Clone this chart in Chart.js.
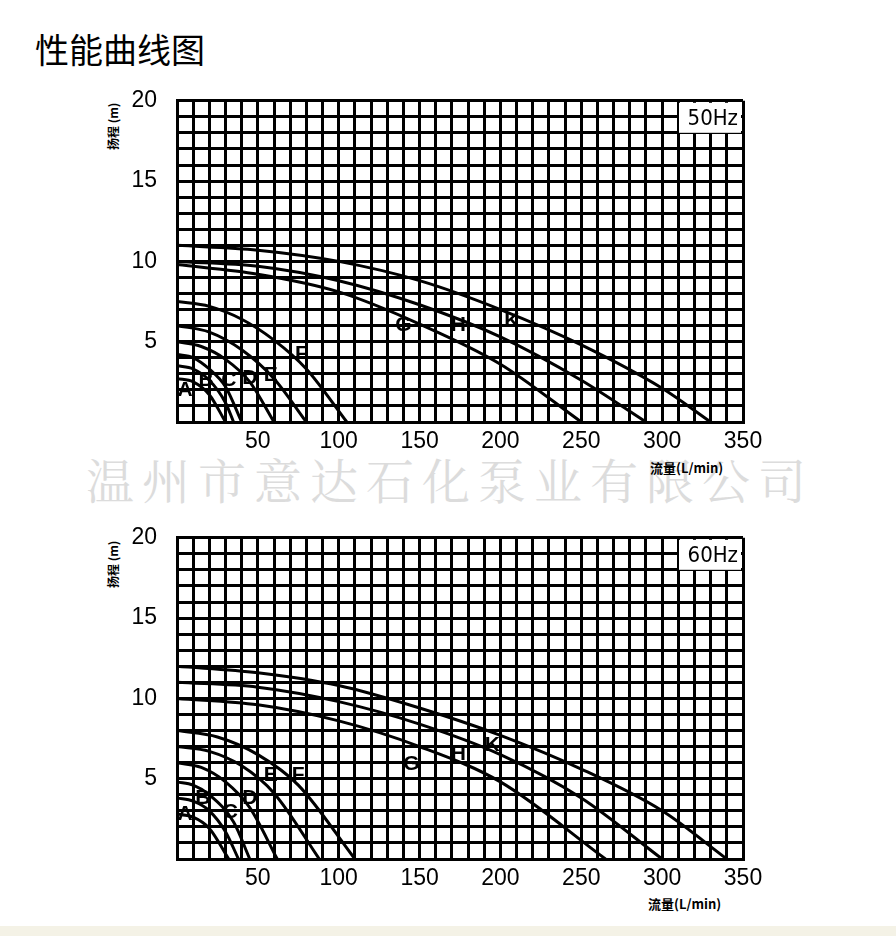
<!DOCTYPE html>
<html>
<head>
<meta charset="utf-8">
<script src="https://cdn.jsdelivr.net/npm/chart.js@4/dist/chart.umd.min.js"></script>
<style>
body { margin:0; background:#fff; width:896px; height:936px; position:relative; overflow:hidden; font-family:"Liberation Sans", Arial, sans-serif; }
.box { position:absolute; left:0; width:896px; height:398px; }
#title { position:absolute; left:35px; top:24px; font-size:34px; font-family:"Noto Sans CJK SC"; }
#wm { position:absolute; left:86px; top:444px; font-size:48px; color:#dcdcdc; letter-spacing:8px; font-family:"Noto Serif CJK SC","Noto Sans CJK SC"; white-space:nowrap; }
.ylab { position:absolute; font-size:12px; font-weight:bold; transform:rotate(-90deg); transform-origin:left top; font-family:"Noto Sans CJK SC"; white-space:nowrap; }
.xlab { position:absolute; font-size:13px; font-weight:bold; font-family:"Noto Sans CJK SC"; white-space:nowrap; }
#bar { position:absolute; left:0; top:926px; width:896px; height:10px; background:#f4f2e6; }
</style>
</head>
<body>
<div id="title">性能曲线图</div>
<div id="wm">温州市意达石化泵业有限公司</div>
<div class="ylab" style="left:104px;top:150px">扬程 (m)</div>
<div class="xlab" style="left:650px;top:458px">流量(L/min)</div>
<div class="ylab" style="left:104px;top:588px">扬程 (m)</div>
<div class="xlab" style="left:648px;top:894px">流量(L/min)</div>
<div class="box" style="top:67px"><canvas id="c50"></canvas></div>
<div class="box" style="top:504px"><canvas id="c60"></canvas></div>
<div id="bar"></div>
<script>
// 50Hz curves
const names = ['A','B','C','D','E','F','G','H','K'];
const x50 = [
  [0,10,20,30],
  [0,10,20,30,35],
  [0,10,20,30,40],
  [0,15,30,45,60],
  [0,20,40,60,80],
  [0,20,40,60,80,105],
  [0,50,100,150,200,250],
  [0,50,100,150,200,250,290],
  [0,50,100,150,200,250,300,330]
];
const y50 = [
  [2.7,2.5,1.7,0],
  [3.5,3.3,2.6,1.2,0],
  [4.2,4.0,3.3,2.2,0],
  [5,4.7,3.9,2.5,0],
  [6,5.6,4.5,2.7,0],
  [7.5,7.2,6.4,5.1,3.3,0],
  [9.8,9.2,8.1,6.1,3.6,0],
  [10,9.7,8.8,7.3,5.3,2.6,0],
  [11,10.7,10,8.8,7.0,4.8,2.1,0]
];
const lab50 = [[5,2],[18,2.6],[32,2.6],[45,2.7],[58,2.9],[77,4.2],[140,6],[174,6],[207,6.3]];

// 60Hz curves
const x60 = [
  [0,10,20,32],
  [0,10,20,30,38],
  [0,10,20,35,45],
  [0,15,30,45,62],
  [0,20,40,60,88],
  [0,25,50,75,110],
  [0,50,100,150,200,265],
  [0,50,100,150,200,250,300],
  [0,50,100,150,200,250,300,340]
];
const y60 = [
  [2.8,2.6,1.9,0],
  [3.8,3.6,3.0,1.7,0],
  [4.8,4.6,4.0,2.3,0],
  [6,5.7,4.8,3.2,0],
  [7,6.7,5.8,4.1,0],
  [8,7.6,6.5,4.6,0],
  [10,9.6,8.6,7.0,4.8,0],
  [11,10.7,9.8,8.4,6.5,3.8,0],
  [12,11.6,10.8,9.4,7.7,5.6,3.0,0]
];
const lab60 = [[5,2.8],[16,3.8],[33,2.9],[45,3.8],[58,5.2],[75,5.2],[145,5.9],[174,6.5],[195,7.1]];

const xTicks = [50,100,150,200,250,300,350];
const yTicks = [5,10,15,20];

function makeChart(id, xs, ys, labs, hz) {
  const datasets = xs.map((xa, i) => ({
    label: names[i],
    data: xa.map((x, j) => ({x: x, y: ys[i][j]})),
    showLine: true, borderColor: '#000', borderWidth: 3, pointRadius: 0,
    cubicInterpolationMode: 'monotone', fill: false
  }));
  const letters = {
    id: 'letters',
    afterDatasetsDraw(chart) {
      const c = chart.ctx, xs_ = chart.scales.x, ys_ = chart.scales.y;
      c.save();
      c.fillStyle = '#000';
      c.font = 'bold 21px "Liberation Sans", Arial';
      c.textAlign = 'center'; c.textBaseline = 'middle';
      labs.forEach((p, i) => c.fillText(names[i], xs_.getPixelForValue(p[0]), ys_.getPixelForValue(p[1])));
      const a = chart.chartArea;
      c.fillStyle = '#fff';
      c.fillRect(a.right - 64, a.top + 2, 62, 30);
      c.fillStyle = '#000';
      c.font = '22px "DejaVu Sans Condensed", "Liberation Sans Narrow", Arial';
      c.textAlign = 'right';
      c.fillText(hz, a.right - 5, a.top + 18);
      c.restore();
    }
  };
  return new Chart(document.getElementById(id), {
    type: 'scatter',
    data: { datasets: datasets },
    plugins: [letters],
    options: {
      responsive: false, animation: false,
      layout: { padding: { left: 0, right: 153, top: 14, bottom: 0 } },
      plugins: { legend: { display: false }, tooltip: { enabled: false } },
      scales: {
        x: {
          type: 'linear', min: 0, max: 350,
          afterFit(s) { s.height = 43; },
          afterBuildTicks(s) { s.ticks = []; for (let v = 0; v <= 350; v += 10) s.ticks.push({value: v}); },
          ticks: { autoSkip: false, maxRotation: 0, color: '#000', padding: 6,
            font: { size: 23, family: '"Liberation Sans", Arial' },
            callback: v => xTicks.includes(v) ? String(v) : '' },
          grid: { color: '#000', lineWidth: 3, drawTicks: false },
          border: { color: '#000', width: 3 }
        },
        y: {
          type: 'linear', min: 0, max: 20,
          afterFit(s) { s.width = 177; },
          afterBuildTicks(s) { s.ticks = []; for (let v = 0; v <= 20; v += 1) s.ticks.push({value: v}); },
          ticks: { autoSkip: false, color: '#000', padding: 20,
            font: { size: 23, family: '"Liberation Sans", Arial' },
            callback: v => yTicks.includes(v) ? String(v) : '' },
          grid: { color: '#000', lineWidth: 3, drawTicks: false },
          border: { color: '#000', width: 3 }
        }
      }
    }
  });
}
function sizeCanvas(id) { const c = document.getElementById(id); c.width = 896; c.height = 398; c.style.width = '896px'; c.style.height = '398px'; }
sizeCanvas('c50'); sizeCanvas('c60');
makeChart('c50', x50, y50, lab50, '50Hz');
makeChart('c60', x60, y60, lab60, '60Hz');
</script>
</body>
</html>
